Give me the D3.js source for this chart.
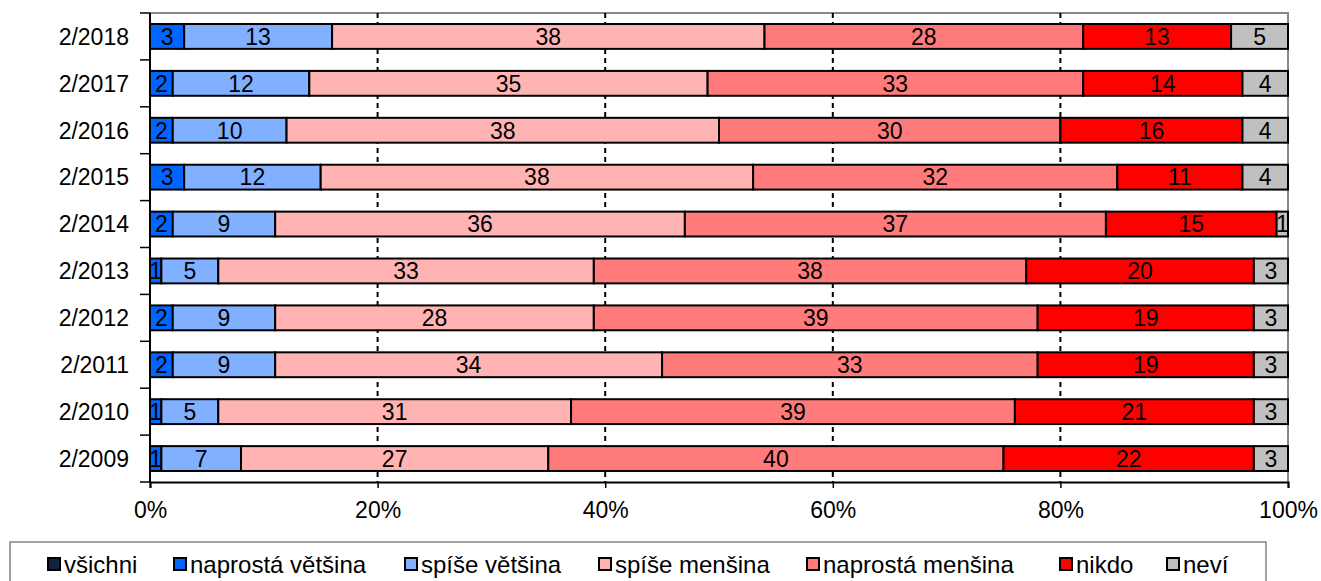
<!DOCTYPE html>
<html>
<head>
<meta charset="utf-8">
<script src="https://cdn.jsdelivr.net/npm/d3@7"></script>
<style>
  body { margin: 0; background: #fff; }
  text { font-family: "Liberation Sans", Arial, sans-serif; fill: #000; }
</style>
</head>
<body>
<script>
// categories (top to bottom) and series values
const years = ["2/2018", "2/2017", "2/2016", "2/2015", "2/2014", "2/2013", "2/2012", "2/2011", "2/2010", "2/2009"];
const seriesNames = ["všichni", "naprostá většina", "spíše většina", "spíše menšina", "naprostá menšina", "nikdo", "neví"];
const seriesColors = ["#10243E", "#0066FF", "#80B0FF", "#FFB3B3", "#FF7A7A", "#FF0000", "#C0C0C0"];
const vsichni      = [0, 0, 0, 0, 0, 0, 0, 0, 0, 0];
const naprostaVet  = [3, 2, 2, 3, 2, 1, 2, 2, 1, 1];
const spiseVet     = [13, 12, 10, 12, 9, 5, 9, 9, 5, 7];
const spiseMen     = [38, 35, 38, 38, 36, 33, 28, 34, 31, 27];
const naprostaMen  = [28, 33, 30, 32, 37, 38, 39, 33, 39, 40];
const nikdo        = [13, 14, 16, 11, 15, 20, 19, 19, 21, 22];
const nevi         = [5, 4, 4, 4, 1, 3, 3, 3, 3, 3];
const xTicks = [0, 0.2, 0.4, 0.6, 0.8, 1];

const values = [vsichni, naprostaVet, spiseVet, spiseMen, naprostaMen, nikdo, nevi];

const width = 1321, height = 581;
const plotL = 150, plotR = 1288, plotT = 13, plotB = 482;
const labelSize = "23px";

const svg = d3.select("body").append("svg")
  .attr("width", width)
  .attr("height", height);

// build table for the stack
const table = years.map((yr, i) => {
  const row = { year: yr };
  seriesNames.forEach((s, j) => { row[s] = values[j][i]; });
  return row;
});
const stacked = d3.stack().keys(seriesNames).offset(d3.stackOffsetExpand)(table);

const x = d3.scaleLinear().domain([0, 1]).range([plotL, plotR]);
const y = d3.scaleBand().domain(years).range([plotT, plotB]).paddingInner(0.47).paddingOuter(0.235);
const yOuter = d3.scaleBand().domain(years).range([plotT, plotB]);

// plot border (grey top and right)
svg.append("path")
  .attr("d", `M${plotL},${plotT}H${plotR}V${plotB}`)
  .attr("fill", "none")
  .attr("stroke", "#888")
  .attr("stroke-width", 2);

// dashed gridlines
svg.selectAll(".grid")
  .data(xTicks.slice(1, -1))
  .enter()
  .append("line")
  .attr("class", "grid")
  .attr("x1", d => x(d)).attr("x2", d => x(d))
  .attr("y1", plotT).attr("y2", plotB)
  .attr("stroke", "#000")
  .attr("stroke-width", 2)
  .attr("stroke-dasharray", "5,4");

// bars
const groups = svg.selectAll(".series")
  .data(stacked)
  .enter()
  .append("g")
  .attr("class", "series")
  .attr("fill", (d, i) => seriesColors[i]);

groups.selectAll("rect")
  .data(d => d)
  .enter()
  .append("rect")
  .attr("x", d => x(d[0]))
  .attr("width", d => x(d[1]) - x(d[0]))
  .attr("y", d => y(d.data.year))
  .attr("height", y.bandwidth())
  .attr("stroke", "#000")
  .attr("stroke-width", 2);

// segment labels
groups.selectAll("text")
  .data((d, i) => d.map(v => ({ v: v, val: values[i][years.indexOf(v.data.year)] })).filter(e => e.val > 0))
  .enter()
  .append("text")
  .attr("x", d => (x(d.v[0]) + x(d.v[1])) / 2)
  .attr("y", d => y(d.v.data.year) + y.bandwidth() / 2)
  .attr("dy", "0.36em")
  .attr("text-anchor", "middle")
  .style("font-size", labelSize)
  .style("fill", "#000")
  .text(d => d.val);

// y axis
const yAxis = svg.append("g");
yAxis.append("line")
  .attr("x1", plotL).attr("x2", plotL)
  .attr("y1", plotT).attr("y2", plotB)
  .attr("stroke", "#000").attr("stroke-width", 2);
yAxis.selectAll(".ytick")
  .data(years)
  .enter()
  .append("line")
  .attr("class", "ytick")
  .attr("x1", plotL - 10).attr("x2", plotL)
  .attr("y1", d => yOuter(d)).attr("y2", d => yOuter(d))
  .attr("stroke", "#000").attr("stroke-width", 1.5);
yAxis.append("line")
  .attr("x1", plotL - 10).attr("x2", plotL)
  .attr("y1", plotB).attr("y2", plotB)
  .attr("stroke", "#000").attr("stroke-width", 1.5);
yAxis.selectAll(".ylabel")
  .data(years)
  .enter()
  .append("text")
  .attr("class", "ylabel")
  .attr("x", 129)
  .attr("y", d => y(d) + y.bandwidth() / 2)
  .attr("dy", "0.36em")
  .attr("text-anchor", "end")
  .style("font-size", labelSize)
  .text(d => d);

// x axis
const xAxis = svg.append("g")
  .attr("transform", `translate(0,${plotB})`)
  .call(d3.axisBottom(x).tickValues(xTicks).tickFormat(d3.format(".0%")).tickSize(6).tickPadding(14));
xAxis.select(".domain").attr("stroke", "#000").attr("stroke-width", 2);
xAxis.selectAll("line").attr("stroke", "#000").attr("stroke-width", 1.5);
xAxis.selectAll("text")
  .style("font-size", labelSize)
  .style("font-family", "'Liberation Sans', Arial, sans-serif");

// legend
const legendX = [47, 173, 404, 598, 806, 1059, 1166];
svg.append("rect")
  .attr("x", 10).attr("y", 542)
  .attr("width", 1256).attr("height", 50)
  .attr("fill", "#fff")
  .attr("stroke", "#444")
  .attr("stroke-width", 1);

const legend = svg.selectAll(".legend")
  .data(seriesNames)
  .enter()
  .append("g")
  .attr("class", "legend")
  .attr("transform", (d, i) => `translate(${legendX[i]},564)`);

legend.append("rect")
  .attr("x", 1).attr("y", -6)
  .attr("width", 12).attr("height", 12)
  .attr("fill", (d, i) => seriesColors[i])
  .attr("stroke", "#000")
  .attr("stroke-width", 2);

legend.append("text")
  .attr("x", 17)
  .attr("dy", "0.36em")
  .style("font-size", "24px")
  .text(d => d);
</script>
</body>
</html>
